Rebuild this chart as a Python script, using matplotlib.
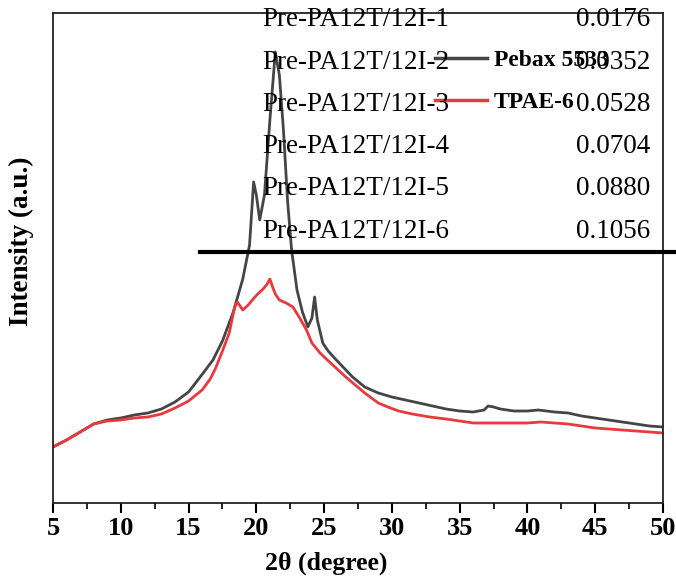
"""XRD patterns of Pebax 5533 and TPAE-6 with overlaid composition table."""
import matplotlib.pyplot as plt
from matplotlib.lines import Line2D

plt.rcParams["font.family"] = ["Liberation Serif", "DejaVu Serif"]

# 2theta (degree) and intensity (a.u.)
pebax_2theta = [5.0, 6.0, 7.0, 8.0, 9.0, 10.0, 11.0, 12.0, 13.0, 14.0, 15.0,
                15.8, 16.8, 17.5, 18.3, 19.0, 19.5, 19.8, 20.0, 20.25, 20.6,
                21.0, 21.4, 21.7, 22.0, 22.3, 22.6, 23.0, 23.4, 23.8, 24.1,
                24.3, 24.5, 24.9, 25.3, 25.9, 27.1, 28.0, 29.0, 30.0, 31.0,
                32.0, 33.0, 34.0, 35.0, 36.0, 36.8, 37.1, 37.5, 38.0, 39.0,
                40.0, 40.8, 42.0, 43.0, 44.0, 45.0, 46.0, 47.0, 48.0, 49.0, 50.0]
pebax_int = [56, 63, 71, 79, 83, 85, 88, 90, 94, 101, 111,
             125, 143, 162, 191, 224, 258, 321, 308, 283, 308,
             383, 451, 428, 373, 303, 253, 213, 191, 176, 185,
             206, 183, 160, 152, 143, 126, 116, 110, 106, 103,
             100, 97, 94, 92, 91, 93, 97, 96, 94, 92,
             92, 93, 91, 90, 87, 85, 83, 81, 79, 77, 76]

tpae_2theta = [5.0, 6.0, 7.0, 8.0, 9.0, 10.0, 11.0, 12.0, 13.0, 14.0, 15.0,
               16.0, 16.6, 17.0, 17.5, 18.0, 18.4, 18.6, 18.8, 19.0, 19.4,
               19.7, 20.1, 20.5, 20.8, 21.0, 21.2, 21.4, 21.7, 22.2, 22.7,
               23.2, 23.7, 24.1, 24.7, 25.4, 26.6, 28.0, 29.0, 29.7, 30.5,
               31.5, 32.8, 34.0, 35.0, 36.0, 37.0, 38.0, 39.0, 40.0, 41.0,
               42.0, 43.0, 44.0, 45.0, 46.0, 47.0, 48.0, 49.0, 50.0]
tpae_int = [56, 63, 71, 79, 82, 83, 85, 86, 89, 95, 102,
            113, 124, 135, 152, 170, 196, 201, 197, 193, 198,
            203, 209, 214, 219, 224, 216, 209, 203, 200, 196,
            185, 173, 160, 150, 141, 126, 110, 100, 96, 92,
            89, 86, 84, 82, 80, 80, 80, 80, 80, 81,
            80, 79, 77, 75, 74, 73, 72, 71, 70]

# table text drawn over the chart
table_names = ["Pre-PA12T/12I-1", "Pre-PA12T/12I-2", "Pre-PA12T/12I-3",
               "Pre-PA12T/12I-4", "Pre-PA12T/12I-5", "Pre-PA12T/12I-6"]
table_values = ["0.0176", "0.0352", "0.0528", "0.0704", "0.0880", "0.1056"]

W, H = 676, 580
fig = plt.figure(figsize=(W / 100, H / 100), dpi=100)
ax = fig.add_axes([53 / W, 1 - 503 / H, (663 - 53) / W, (503 - 13) / H])

ax.plot(pebax_2theta, pebax_int, color="#454545", lw=2.0)
ax.plot(tpae_2theta, tpae_int, color="#e83a3c", lw=2.0)

ax.set_xlim(5, 50)
ax.set_ylim(0, 490)
ax.set_xticks(range(5, 51, 5))
ax.set_xticks([x + 2.5 for x in range(5, 50, 5)], minor=True)
ax.set_yticks([])
ax.tick_params(axis="x", which="major", length=7, width=1.5, direction="out",
               labelsize=19, pad=3)
ax.tick_params(axis="x", which="minor", length=4, width=1.2, direction="out")
for lbl in ax.get_xticklabels():
    lbl.set_fontweight("bold")
for sp in ax.spines.values():
    sp.set_linewidth(1.3)
    sp.set_color("#222222")

ax.set_xlabel("2θ (degree)", fontsize=18.5, fontweight="bold")
ax.xaxis.set_label_coords((326 - 53) / 610, -(563 - 503) / 490)
ax.xaxis.label.set_va("center")
ax.set_ylabel("Intensity (a.u.)", fontsize=19.5, fontweight="bold")
ax.yaxis.set_label_coords(-(53 - 21) / 610, (503 - 241) / 490)
ax.yaxis.label.set_va("center")

# legend entries
for y, col, lab in [(58, "#454545", "Pebax 5533"), (100, "#e83a3c", "TPAE-6")]:
    fig.add_artist(Line2D([435 / W, 487 / W], [1 - y / H, 1 - y / H],
                          color=col, lw=2.5))
    fig.text(494 / W, 1 - (y + 3) / H, lab, fontsize=17, fontweight="bold",
             va="center", ha="left")

# overlaid table
for i, (name, val) in enumerate(zip(table_names, table_values)):
    yc = 20 + i * 42.2
    fig.text(262 / W, 1 - yc / H, name, fontsize=19.5, va="center", ha="left")
    fig.text(650 / W, 1 - yc / H, val, fontsize=19.5, va="center", ha="right")
fig.add_artist(Line2D([200 / W, 1.0], [1 - 252 / H, 1 - 252 / H],
                      color="black", lw=3))

fig.savefig("out.png", dpi=100)
